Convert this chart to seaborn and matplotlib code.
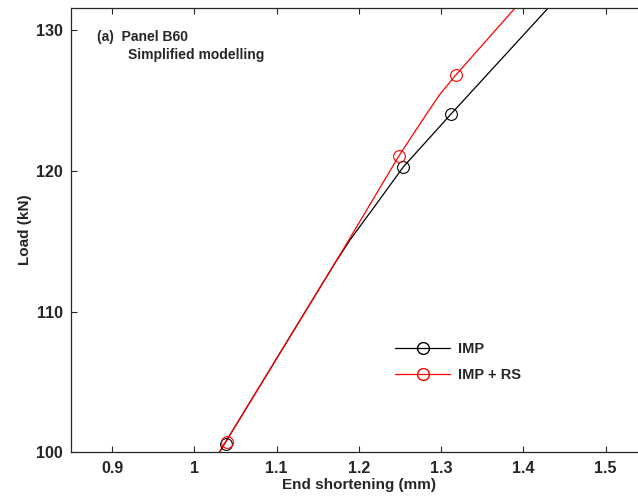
import matplotlib
matplotlib.use("Agg")
import matplotlib.pyplot as plt
import seaborn as sns
import pandas as pd

# ---- data ----
imp_x = [1.022, 1.0304, 1.1700, 1.1900, 1.2188, 1.2541, 1.3120, 1.4370]
imp_y = [99.2, 100.0, 113.35, 115.15, 117.44, 120.28, 124.03, 132.0]
imp_mx = [1.0382, 1.2541, 1.3120]
imp_my = [100.59, 120.28, 124.03]

rs_x = [1.022, 1.0304, 1.1805, 1.2118, 1.2488, 1.2750, 1.2980, 1.3181, 1.3965]
rs_y = [99.2, 100.0, 114.37, 117.44, 121.07, 123.40, 125.40, 126.82, 132.0]
rs_mx = [1.0394, 1.2488, 1.3181]
rs_my = [100.75, 121.07, 126.82]

x_ticks = [0.9, 1.0, 1.1, 1.2, 1.3, 1.4, 1.5]
x_tick_labels = ["0.9", "1", "1.1", "1.2", "1.3", "1.4", "1.5"]
y_ticks = [100, 110, 120, 130]
y_tick_labels = ["100", "110", "120", "130"]

sns.set_style("ticks")
plt.rcParams['font.family'] = ['Liberation Sans', 'DejaVu Sans']
plt.rcParams['font.weight'] = 'bold'

W, H = 638, 503
fig = plt.figure(figsize=(W / 100, H / 100), dpi=100)
left, top, bottom = 71, 8, 452.3
xmin, xmax = 0.8501, 1.55
width_px = (xmax - xmin) * 822.8
ax = fig.add_axes([left / W, 1 - bottom / H, width_px / W, (bottom - top) / H])

df_imp = pd.DataFrame({"x": imp_x, "y": imp_y})
df_rs = pd.DataFrame({"x": rs_x, "y": rs_y})

lw = 0.9
sns.lineplot(data=df_imp, x="x", y="y", ax=ax, sort=False, estimator=None,
             color="black", linewidth=lw)
sns.lineplot(data=df_rs, x="x", y="y", ax=ax, sort=False, estimator=None,
             color="red", linewidth=lw)
ms = 8.5
ax.plot(imp_mx, imp_my, linestyle="none", marker="o", markersize=ms,
        markerfacecolor="none", markeredgecolor="black", markeredgewidth=0.8)
ax.plot(rs_mx, rs_my, linestyle="none", marker="o", markersize=ms,
        markerfacecolor="none", markeredgecolor="red", markeredgewidth=0.8)

# legend proxies
h1, = ax.plot([], [], color="black", linewidth=lw, marker="o", markersize=ms,
              markerfacecolor="none", markeredgewidth=1.0)
h2, = ax.plot([], [], color="red", linewidth=lw, marker="o", markersize=ms,
              markerfacecolor="none", markeredgewidth=1.0)
leg = ax.legend([h1, h2], ["IMP", "IMP + RS"], loc="upper left",
                bbox_to_anchor=(395 / W, 1 - 342 / H), bbox_transform=fig.transFigure,
                frameon=False, borderpad=0, borderaxespad=0, handlelength=3.8,
                handletextpad=0.5, labelspacing=0.85, prop={"size": 10.5, "weight": "bold"})

ax.set_xlim(xmin, xmax)
ax.set_ylim(100, 131.56)
ax.set_xticks(x_ticks)
ax.set_xticklabels(x_tick_labels)
ax.set_yticks(y_ticks)
ax.set_yticklabels(y_tick_labels)
ax.tick_params(direction="in", length=4, width=0.8, top=True, right=True,
               labelsize=11.5, pad=6)
for s in ax.spines.values():
    s.set_linewidth(0.9)
    s.set_visible(True)

ax.set_xlabel("End shortening (mm)", fontsize=11, fontweight="bold", labelpad=2)
ax.set_ylabel("Load (kN)", fontsize=11, fontweight="bold", labelpad=3)

fig.text(97 / W, 1 - 37 / H, "(a)  Panel B60", fontsize=10, fontweight="bold",
         ha="left", va="center")
fig.text(128 / W, 1 - 55 / H, "Simplified modelling", fontsize=10, fontweight="bold",
         ha="left", va="center")

fig.savefig("out.png", dpi=100)
